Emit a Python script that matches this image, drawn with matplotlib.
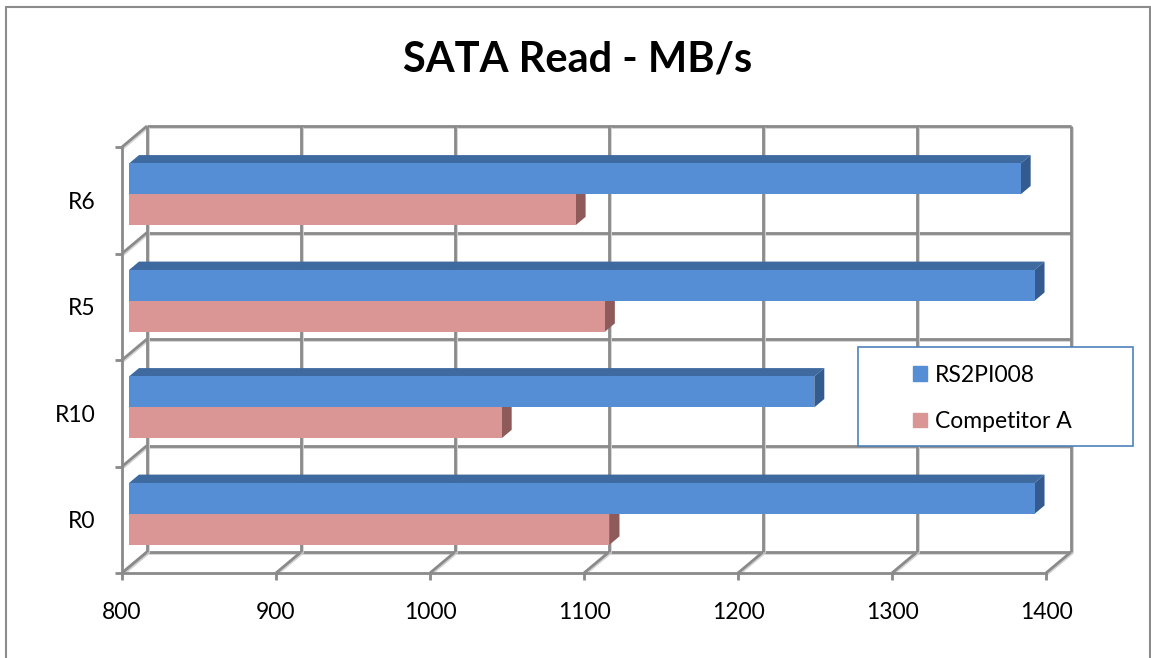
"""
SATA Read - MB/s: Excel-style 3D clustered horizontal bar chart.
"""

import matplotlib.pyplot as plt
import matplotlib.patheffects as pe
from matplotlib.patches import Patch, Polygon, Rectangle

# Data
categories = ['R0', 'R10', 'R5', 'R6']
rs2pi008 = [1388, 1245, 1388, 1379]
competitor_a = [1112, 1042, 1109, 1090]
x_ticks = [800, 900, 1000, 1100, 1200, 1300, 1400]

plt.rcParams['font.family'] = ['Lato', 'DejaVu Sans']

FIG_W, FIG_H = 1151, 658
# front plane of the 3D box, in pixels
LEFT, RIGHT, BOTTOM, TOP = 122, 1046, 573, 147
BACK_PX = (25, 21)          # offset of the back wall
GRID = '#8a8a8a'

fig = plt.figure(figsize=(FIG_W / 100, FIG_H / 100), dpi=100)
ax = fig.add_axes([LEFT / FIG_W, 1 - BOTTOM / FIG_H,
                   (RIGHT - LEFT) / FIG_W, (BOTTOM - TOP) / FIG_H])
ax.set_xlim(x_ticks[0], x_ticks[-1])
ax.set_ylim(0, len(categories))

# pixel -> data unit conversions
xu = (x_ticks[-1] - x_ticks[0]) / (RIGHT - LEFT)
yu = len(categories) / (BOTTOM - TOP)
bx, by = BACK_PX[0] * xu, BACK_PX[1] * yu


def depth(d):
    return d * bx, d * by


shadow = [pe.SimpleLineShadow(offset=(0.8, -0.8), shadow_color='#d2d2d2', alpha=1),
          pe.Normal()]
line_kw = dict(color=GRID, lw=2, clip_on=False, solid_capstyle='butt',
               path_effects=shadow, zorder=1)

xmin, xmax = x_ticks[0], x_ticks[-1]
n = len(categories)

# back wall grid
for k in range(n + 1):
    ax.plot([xmin + bx, xmax + bx], [k + by, k + by], **line_kw)
    ax.plot([xmin, xmin + bx], [k, k + by], **line_kw)      # side wall
for xv in x_ticks:
    ax.plot([xv + bx, xv + bx], [by, n + by], **line_kw)
    ax.plot([xv, xv + bx], [0, by], **line_kw)              # floor

# bars
h = 0.29
fdx, fdy = depth(0.28)
ddx, ddy = depth(0.40)
series = [
    (competitor_a, -h / 2, '#d99694', '#b87b79', '#8e5b5a'),
    (rs2pi008, h / 2, '#558ed5', '#3e6aa0', '#345b8f'),
]
for i in range(n):
    for vals, off, c_front, c_top, c_side in series:
        v = vals[i]
        yc = i + 0.5 + off + fdy
        L, R = xmin + fdx, v + fdx
        T, B = yc + h / 2, yc - h / 2
        ax.add_patch(Polygon([(L, T), (R, T), (R + ddx, T + ddy), (L + ddx, T + ddy)],
                             closed=True, facecolor=c_top, lw=0, zorder=3, clip_on=False))
        ax.add_patch(Polygon([(R, B), (R, T), (R + ddx, T + ddy), (R + ddx, B + ddy)],
                             closed=True, facecolor=c_side, lw=0, zorder=3, clip_on=False))
        ax.barh(yc, v - xmin, left=L, height=h, color=c_front, lw=0,
                zorder=4, clip_on=False)

# front axes
for s in ['top', 'right']:
    ax.spines[s].set_visible(False)
for s in ['left', 'bottom']:
    ax.spines[s].set_color(GRID)
    ax.spines[s].set_linewidth(2)
ax.patch.set_visible(False)

ax.set_xticks(x_ticks)
ax.set_xticklabels([str(t) for t in x_ticks])
ax.tick_params(axis='x', length=5, width=2, color=GRID, pad=16,
               labelsize=16.5, labelcolor='black')
ax.set_yticks(range(n + 1))
ax.set_yticklabels([])
ax.tick_params(axis='y', length=5, width=2, color=GRID)
ax.set_yticks([i + 0.5 for i in range(n)], minor=True)
ax.set_yticklabels(categories, minor=True)
ax.tick_params(axis='y', which='minor', length=0, pad=19,
               labelsize=16.5, labelcolor='black')

# title
fig.text(578 / FIG_W, 1 - 60 / FIG_H, 'SATA Read - MB/s', ha='center',
         va='center', fontsize=30, fontweight='bold')

# legend
lx0, lx1, ly0, ly1 = 858, 1133, 347, 446
fig.patches.append(Rectangle((lx0 / FIG_W, 1 - ly1 / FIG_H), (lx1 - lx0) / FIG_W,
                             (ly1 - ly0) / FIG_H, transform=fig.transFigure,
                             facecolor='white', edgecolor='#4f81bd', lw=1.2,
                             zorder=5))
handles = [Patch(color='#558ed5'), Patch(color='#d99694')]
leg = fig.legend(handles, ['RS2PI008', 'Competitor A'], loc='center',
                 bbox_to_anchor=((lx0 + lx1) / 2 / FIG_W - 3 / FIG_W,
                                 1 - (ly0 + ly1) / 2 / FIG_H - 2 / FIG_H),
                 frameon=False, fontsize=16.5, handlelength=0.62, handleheight=0.62,
                 handletextpad=0.35, labelspacing=1.1)
leg.set_zorder(6)

# chart border
fig.patches.append(Rectangle((6 / FIG_W, -0.05), 1144 / FIG_W, 1.05 - 7 / FIG_H,
                             transform=fig.transFigure, fill=False,
                             edgecolor='#8c8c8c', lw=1.5))

fig.savefig('out.png', dpi=100)
